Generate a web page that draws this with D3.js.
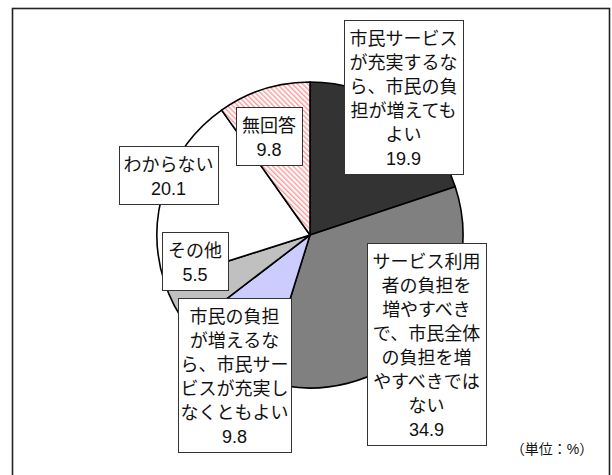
<!DOCTYPE html>
<html lang="ja">
<head>
  <meta charset="UTF-8">
  <title>市民負担と市民サービス</title>
  <style>
    body, html {
      margin: 0;
      padding: 0;
      background-color: white;
    }
    #svg {
      display: block;
    }
  </style>
</head>
<body>
  <svg id="svg" width="612" height="475"></svg>
  <script src="https://d3js.org/d3.v7.min.js"></script>
  <script>
    // data, clockwise from 12 o'clock
    const categories = [
      '市民サービス\nが充実するな\nら、市民の負\n担が増えても\nよい',
      'サービス利用\n者の負担を\n増やすべき\nで、市民全体\nの負担を増\nやすべきでは\nない',
      '市民の負担\nが増えるな\nら、市民サー\nビスが充実し\nなくともよい',
      'その他',
      'わからない',
      '無回答'
    ]
    const values = [19.9, 34.9, 9.8, 5.5, 20.1, 9.8]
    const unitNote = '（単位：%）'

    // styles / layout
    const sliceColors = ['#333333', '#808080', '#ccccff', '#c0c0c0', '#ffffff', 'url(#hatch)']
    const labelBoxes = [
      { x: 344, y: 20, w: 119 },
      { x: 367, y: 243, w: 119 },
      { x: 178, y: 298, w: 113 },
      { x: 162, y: 232, w: 66 },
      { x: 119, y: 146, w: 99 },
      { x: 236, y: 107, w: 66 }
    ]
    const lineH = 24
    const fontFamily = '"Liberation Sans", "Noto Sans CJK JP", sans-serif'

    const svg = d3.select('#svg')

    const defs = svg.append('defs')
    const hatch = defs.append('pattern')
      .attr('id', 'hatch')
      .attr('patternUnits', 'userSpaceOnUse')
      .attr('width', 3.6)
      .attr('height', 3.6)
      .attr('patternTransform', 'rotate(-45)')
    hatch.append('rect')
      .attr('width', 3.6).attr('height', 3.6)
      .attr('fill', 'white')
    hatch.append('rect')
      .attr('width', 1.4).attr('height', 3.6)
      .attr('fill', '#ff9a9a')

    // outer frame
    svg.append('rect')
      .attr('x', 12.5)
      .attr('y', 8.5)
      .attr('width', 597)
      .attr('height', 480)
      .attr('fill', 'none')
      .attr('stroke', '#222')
      .attr('stroke-width', 1.6)

    // pie
    const cx = 310, cy = 235, radius = 153
    const pie = d3.pie().sort(null).value(d => d)
    const arc = d3.arc().innerRadius(0).outerRadius(radius)

    svg.append('g')
      .attr('transform', `translate(${cx}, ${cy})`)
      .selectAll('path')
      .data(pie(values))
      .enter()
      .append('path')
      .attr('d', arc)
      .attr('fill', (d, i) => sliceColors[i])
      .attr('stroke', 'black')
      .attr('stroke-width', 1.6)
      .attr('stroke-linejoin', 'round')

    // label boxes
    const fmt = d3.format('.1f')
    const labels = svg.append('g')
      .selectAll('g')
      .data(categories.map((c, i) => ({ lines: c.split('\n').concat(fmt(values[i])), box: labelBoxes[i] })))
      .enter()
      .append('g')

    labels.append('rect')
      .attr('x', d => d.box.x + 0.5)
      .attr('y', d => d.box.y + 0.5)
      .attr('width', d => d.box.w)
      .attr('height', d => d.lines.length * lineH + 10)
      .attr('fill', 'white')
      .attr('stroke', '#333')
      .attr('stroke-width', 1)

    labels.each(function (d) {
      d3.select(this).selectAll('text')
        .data(d.lines)
        .enter()
        .append('text')
        .text(t => t)
        .attr('x', d.box.x + d.box.w / 2)
        .attr('y', (t, j) => d.box.y + 18.5 + j * lineH)
        .attr('text-anchor', 'middle')
        .attr('dominant-baseline', 'central')
        .style('font-family', fontFamily)
        .style('font-size', '18px')
        .style('fill', '#111')
    })

    svg.append('text')
      .text(unitNote)
      .attr('x', 552)
      .attr('y', 449)
      .attr('text-anchor', 'middle')
      .attr('dominant-baseline', 'central')
      .style('font-family', fontFamily)
      .style('font-size', '14px')
      .style('fill', '#111')
  </script>
</body>
</html>
